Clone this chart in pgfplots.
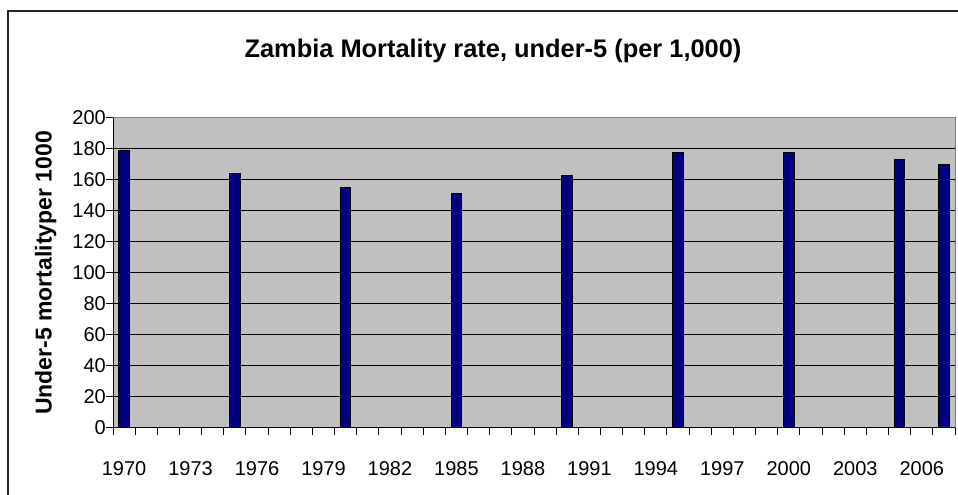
\documentclass[border=0pt]{standalone}
\usepackage{pgfplots}
\pgfplotsset{compat=1.18}
\usepackage{fontspec}
\setmainfont{Liberation Sans}
\definecolor{plotgray}{HTML}{C0C0C0}
\definecolor{navy}{HTML}{000080}
\definecolor{framegray}{HTML}{808080}
\newcommand{\tl}{\fontsize{20}{24}\selectfont}
\pgfplotstableread{
x y
0 179
5 164
10 155
15 151
20 163
25 178
30 178
35 173
37 170
}\mortality
\begin{document}
\begin{tikzpicture}[x=1pt,y=1pt]
\useasboundingbox (0,0) rectangle (958,495);
\clip (0,0) rectangle (958,495);
\fill[white] (0,0) rectangle (958,495);
\draw[line width=1.2pt, black!85] (8,-20) -- (8,484) -- (980,484);
\node[anchor=base, font=\fontsize{25.4}{30}\selectfont\bfseries] at (493,437) {Zambia Mortality rate, under-5 (per 1,000)};
\node[rotate=90, anchor=base, font=\fontsize{23}{27}\selectfont\bfseries] at (51.5,222) {Under-5 mortalityper 1000};
\begin{axis}[
  at={(113pt,67pt)}, anchor=south west,
  width=842pt, height=310pt, scale only axis,
  xmin=-0.5, xmax=37.5, ymin=0, ymax=200,
  axis background/.style={fill=plotgray},
  axis line style={framegray, line width=1pt},
  ytick={0,20,...,200},
  ymajorgrids, major grid style={black, line width=1pt},
  xtick={0,3,...,36},
  xticklabels={1970,1973,1976,1979,1982,1985,1988,1991,1994,1997,2000,2003,2006},
  minor xtick={-0.5,0.5,...,37.5},
  major x tick style={draw=none},
  minor tick length=7pt, major tick length=7pt,
  tick align=outside, tick pos=left,
  tick style={black, line width=1pt},
  /pgf/number format/assume math mode=true,
  tick label style={font=\tl},
  xticklabel style={anchor=north, inner sep=0pt, yshift=-26pt},
  yticklabel style={anchor=east, inner sep=0pt},
  after end axis/.code={
    \draw[black, line width=1pt] (rel axis cs:0,1) -- (rel axis cs:0,0) -- (rel axis cs:1,0);
  },
]
\addplot[ybar, bar width=0.48, fill=navy, draw=black, line width=1pt] table[x=x,y=y] {\mortality};
\end{axis}
\end{tikzpicture}
\end{document}
